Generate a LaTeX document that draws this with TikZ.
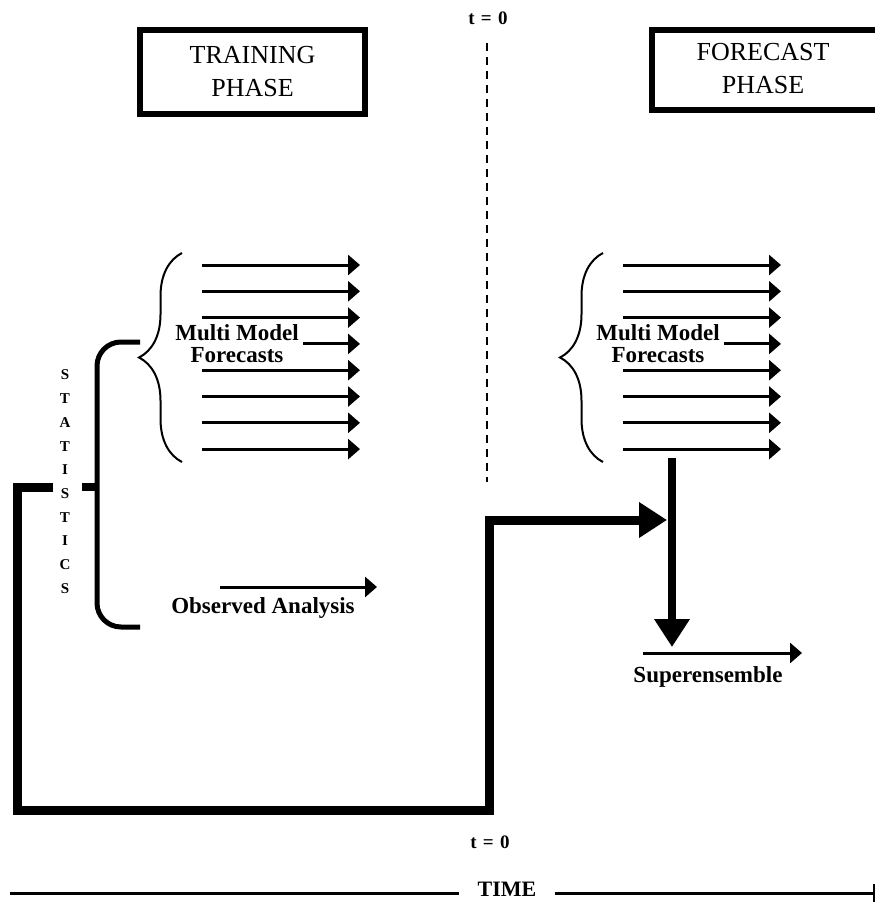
\documentclass[tikz,border=0pt]{standalone}
\usepackage{fontspec}
\setmainfont{Liberation Serif}
\usetikzlibrary{arrows.meta,decorations.pathreplacing}

\begin{document}
\begin{tikzpicture}[x=1pt,y=-1pt]

    \tikzset{
      PhaseStyle/.style = { rectangle, draw, line width=6pt, align=center,
                  minimum width=225pt, minimum height=84pt,
                  font = \fontsize{26}{33}\selectfont },
      LabelStyle/.style = { align=center, inner sep=0pt,
                  font = \fontsize{23}{22}\selectfont\bfseries },
      ZeroStyle/.style = { inner sep=1pt, font = \fontsize{19}{19}\selectfont\bfseries },
      LetterStyle/.style = { inner sep=0pt, font = \fontsize{15}{15}\selectfont\bfseries },
      ArrowStyle/.style = { line width=3pt, -{Triangle[length=12pt,width=20pt]} },
      FrameStyle/.style = { line width=9pt },
      BigArrowStyle/.style = { -{Triangle[length=28pt,width=34pt]} },
      BraceStyle/.style = { line width=2pt, decorate,
                  decoration = {brace, amplitude=43pt} } }
      \useasboundingbox (0,0) rectangle (875,903);
      \clip (0,0) rectangle (875,903);

      \node[PhaseStyle] (train) at (252.5,72) {TRAINING\\PHASE};
      \node[PhaseStyle, minimum width=250pt, minimum height=80pt] (fcst) at (777,70) {};
      \node[align=center, font = \fontsize{26}{33}\selectfont] (fcsttext) at (763,69) {FORECAST\\PHASE};

      \node[ZeroStyle] (t0top) at (488,18) {t\,\,=\,\,0};
      \node[ZeroStyle] (t0bot) at (490,842) {t\,\,=\,\,0};
      \coordinate (dashtop) at (487,43);
      \coordinate (dashbot) at (487,482);
      \draw[line width=2pt, dash pattern=on 8pt off 6pt] (dashtop) -- (dashbot);

      \node[LabelStyle] (mmtrain) at (237,344) {Multi Model\\Forecasts};
      \node[LabelStyle] (mmfcst) at (658,344) {Multi Model\\Forecasts};
      \foreach \y/\s in {265/202, 291.3/202, 317.6/202, 343.9/303,
                         370.2/202, 396.5/202, 422.8/202, 449.1/202}{
        \draw[ArrowStyle] (\s,\y) -- (360,\y);
        \draw[ArrowStyle] (\s+421,\y) -- (781,\y);
      }
      \draw[BraceStyle] (182,462) -- (182,253);
      \draw[BraceStyle] (603,462) -- (603,253);

      \foreach \l [count=\i] in {S,T,A,T,I,S,T,I,C,S}
        \node[LetterStyle] (stat\i) at (65,{375+(\i-1)*23.7}) {\l};
      \draw[line width=5pt, rounded corners=24pt] (140,342) -- (97,342) -- (97,627) -- (140,627);
      \draw[line width=8pt] (82,487) -- (97,487);

      \node[LabelStyle] (obs) at (263,608) {Observed Analysis};
      \coordinate (obsA) at (220,587);
      \coordinate (obsB) at (377,587);
      \draw[ArrowStyle] (obsA) -- (obsB);

      \coordinate (statout) at (53,487);
      \coordinate (lowleft) at (17,810);
      \coordinate (tzero) at (489,520);
      \coordinate (join) at (667,520);
      \draw[FrameStyle, BigArrowStyle] (statout) -| (lowleft) -| (tzero) -- (join);

      \coordinate (enstop) at (672,458);
      \coordinate (enstip) at (672,647);
      \draw[line width=8pt, BigArrowStyle] (enstop) -- (enstip);

      \node[LabelStyle] (super) at (708,677) {Superensemble};
      \coordinate (supA) at (643,653);
      \coordinate (supB) at (802,653);
      \draw[ArrowStyle] (supA) -- (supB);

      \node[LabelStyle, font = \fontsize{22}{22}\selectfont\bfseries, inner xsep=18pt] (time) at (507,889) {TIME};
      \coordinate (timeL) at (10,893);
      \coordinate (timeR) at (875,893);
      \draw[line width=3pt] (timeL) -- (timeL -| time.west);
      \draw[line width=3pt] (timeR -| time.east) -- (timeR);
      \draw[line width=1.5pt] (874,884) -- (874,902);
    \end{tikzpicture}
\end{document}
